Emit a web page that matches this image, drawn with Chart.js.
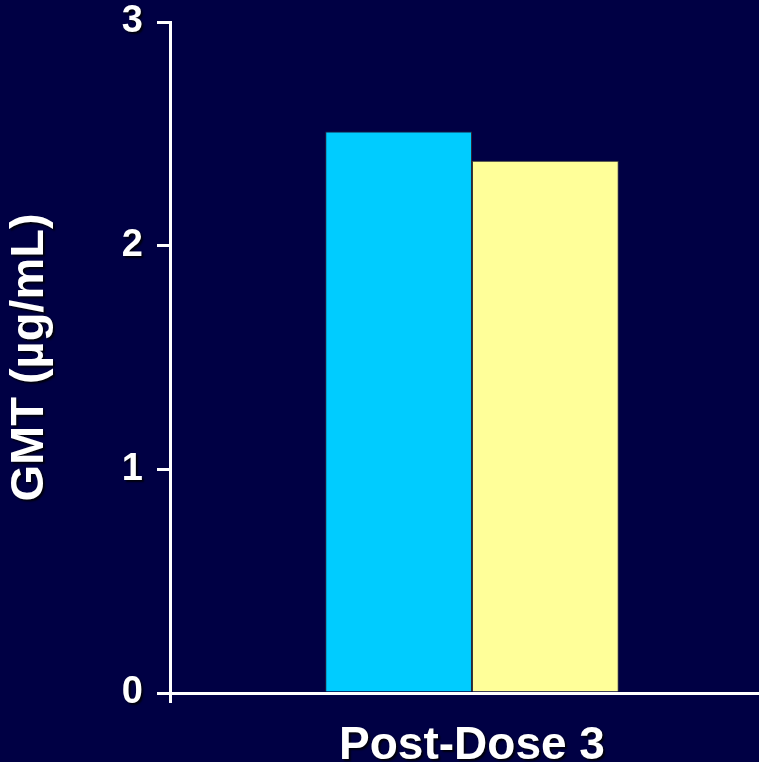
<!DOCTYPE html>
<html><head><meta charset="utf-8">
<script src="https://cdn.jsdelivr.net/npm/chart.js@4/dist/chart.umd.min.js"></script>
<style>
html,body{margin:0;padding:0;background:#000044;overflow:hidden;width:759px;height:762px}
#wrap{position:absolute;left:0;top:0;width:774px;height:762px}
</style></head><body>
<div id="wrap"><canvas id="c" width="774" height="762"></canvas></div>
<script>
const categories = ['Post-Dose 3'];
const seriesNames = ['Group 1', 'Group 2'];
const seriesA = [2.51];
const seriesB = [2.38];
const yMin = 0, yMax = 3, yStep = 1;
const yTitle = 'GMT (µg/mL)';

const FONT = "'Liberation Sans', Arial, sans-serif";
function setShadow(ctx){
  ctx.shadowColor = 'rgba(0,0,0,0.85)';
  ctx.shadowOffsetX = 2;
  ctx.shadowOffsetY = 2;
  ctx.shadowBlur = 2;
}
const shadowPlugin = {
  id: 'textShadow',
  afterLayout(chart){
    Object.values(chart.scales).forEach(s => {
      if (s._shadowWrapped) return;
      s._shadowWrapped = true;
      const oL = s.drawLabels, oT = s.drawTitle;
      s.drawLabels = function(area){ const c = this.ctx; c.save(); setShadow(c); oL.call(this, area); c.restore(); };
      s.drawTitle = function(area){ const c = this.ctx; c.save(); setShadow(c); oT.call(this, area); c.restore(); };
    });
  }
};

new Chart(document.getElementById('c'), {
  type: 'bar',
  data: {
    labels: categories,
    datasets: [
      { label: seriesNames[0], data: seriesA, backgroundColor: '#00CCFF', borderColor: '#2a2a3a', borderWidth: 1,
        barPercentage: 1, categoryPercentage: 0.486 },
      { label: seriesNames[1], data: seriesB, backgroundColor: '#FFFF99', borderColor: '#3a3a3a', borderWidth: 1,
        barPercentage: 1, categoryPercentage: 0.486 }
    ]
  },
  plugins: [shadowPlugin],
  options: {
    responsive: false,
    devicePixelRatio: 1,
    animation: false,
    layout: { padding: { top: 22, left: 0, right: 0, bottom: 0 } },
    plugins: { legend: { display: false }, tooltip: { enabled: false } },
    scales: {
      x: {
        type: 'category',
        afterFit(scale){ scale.height = 69; scale.paddingLeft = 0; scale.paddingRight = 0; },
        border: { display: true, color: '#ffffff', width: 3 },
        grid: { display: true, offset: true, drawOnChartArea: false, drawTicks: true, tickLength: 10, color: '#ffffff', lineWidth: 3 },
        ticks: { color: '#ffffff', padding: 16, font: { family: FONT, size: 46, weight: 'bold', lineHeight: 1.2 } }
      },
      y: {
        min: yMin, max: yMax,
        afterFit(scale){ scale.width = 170; scale.paddingTop = 0; scale.paddingBottom = 0; },
        border: { display: true, color: '#ffffff', width: 3 },
        grid: { display: true, drawOnChartArea: false, drawTicks: true, tickLength: 13, color: '#ffffff', lineWidth: 3 },
        ticks: { stepSize: yStep, color: '#ffffff', padding: 14, font: { family: FONT, size: 38, weight: 'bold' } },
        title: { display: true, text: yTitle, color: '#ffffff', padding: { top: 2, bottom: 0 },
                 font: { family: FONT, size: 47, weight: 'bold', lineHeight: 1.2 } }
      }
    }
  }
});
</script>
</body></html>
